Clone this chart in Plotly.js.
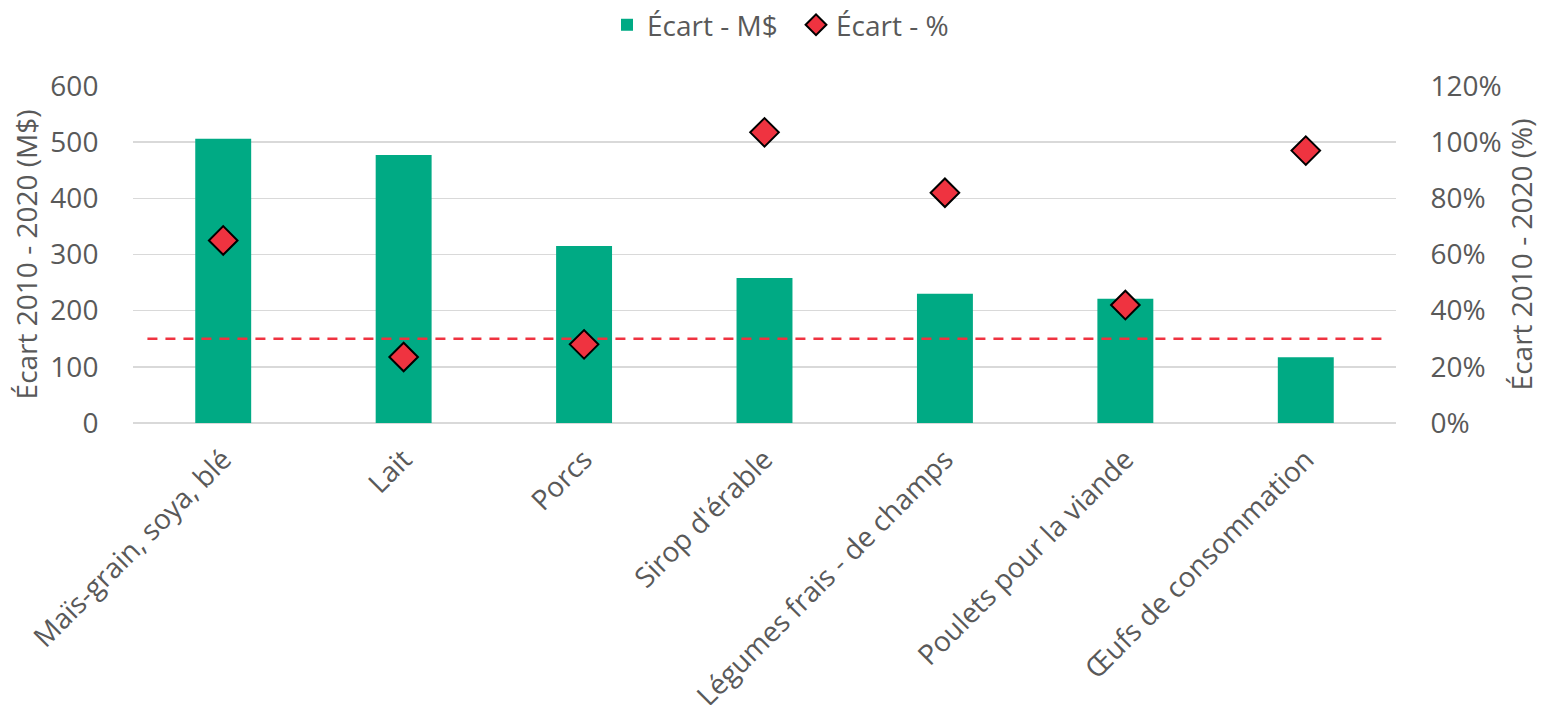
<!DOCTYPE html>
<html>
<head>
<meta charset="utf-8">
<script src="https://cdn.plot.ly/plotly-3.0.1.min.js"></script>
<style>html,body{margin:0;padding:0;background:#fff;}#chart{width:1545px;height:705px;}</style>
</head>
<body>
<div id="chart"></div>
<script>
const categories = ["Maïs-grain, soya, blé", "Lait", "Porcs", "Sirop d'érable", "Légumes frais - de champs", "Poulets pour la viande", "Œufs de consommation"];
const ecartMD = [506, 477, 315, 258, 230, 221, 117];
const ecartPct = [65, 23.5, 28, 103.5, 82, 42, 97];
const seuil = 150;

const font = "'Open Sans', Lato, sans-serif";
const grey = "#595959";
const fs = 28;
const idx = categories.map((c, i) => i);

const traces = [
  {
    type: "bar", name: "Écart - M$", x: idx, y: ecartMD,
    marker: {color: "#00AA84"}, width: 0.31, yaxis: "y"
  },
  {
    type: "scatter", mode: "markers", name: "Écart - %", x: idx, y: ecartPct,
    marker: {symbol: "diamond", size: 22, color: "#EF3340", line: {color: "#000", width: 2}},
    yaxis: "y2"
  }
];

const layout = {
  width: 1545, height: 705,
  margin: {l: 133, r: 149, t: 86, b: 282, autoexpand: false},
  paper_bgcolor: "#fff", plot_bgcolor: "#fff",
  font: {family: font, size: fs, color: grey},
  showlegend: true,
  legend: {orientation: "h", x: 0.3753, xanchor: "left", y: 1.255, yanchor: "top",
           font: {family: font, size: fs, color: grey}, entrywidth: 144, entrywidthmode: "pixels"},
  xaxis: {
    range: [-0.5, 6.5], tickmode: "array", tickvals: idx, ticktext: categories,
    tickangle: -45, showgrid: false, zeroline: false, showline: false,
    ticks: "outside", ticklen: 8, tickcolor: "rgba(0,0,0,0)",
    tickfont: {family: font, size: fs, color: grey}
  },
  yaxis: {
    range: [0, 600], dtick: 100, showgrid: true, gridcolor: "#D9D9D9", gridwidth: 1.5,
    zeroline: true, zerolinecolor: "#D9D9D9", zerolinewidth: 1.5, showline: false,
    ticks: "outside", ticklen: 28, tickcolor: "rgba(0,0,0,0)",
    tickfont: {family: font, size: fs, color: grey},
    title: {text: "Écart 2010 - 2020 (M$)", font: {family: font, size: fs, color: grey}, standoff: 4}
  },
  yaxis2: {
    range: [0, 120], dtick: 20, ticksuffix: "%", overlaying: "y", side: "right",
    showgrid: false, zeroline: false, showline: false,
    ticks: "outside", ticklen: 28, tickcolor: "rgba(0,0,0,0)",
    tickfont: {family: font, size: fs, color: grey},
    title: {text: "Écart 2010 - 2020 (%)", font: {family: font, size: fs, color: grey}, standoff: 10}
  },
  shapes: [{
    type: "line", xref: "x", yref: "y", x0: -0.42, x1: 6.46, y0: seuil, y1: seuil,
    line: {color: "#EF3340", width: 2.5, dash: "10px,8px"}, layer: "above"
  }]
};

Plotly.newPlot("chart", traces, layout, {displayModeBar: false, staticPlot: true});
</script>
</body>
</html>
